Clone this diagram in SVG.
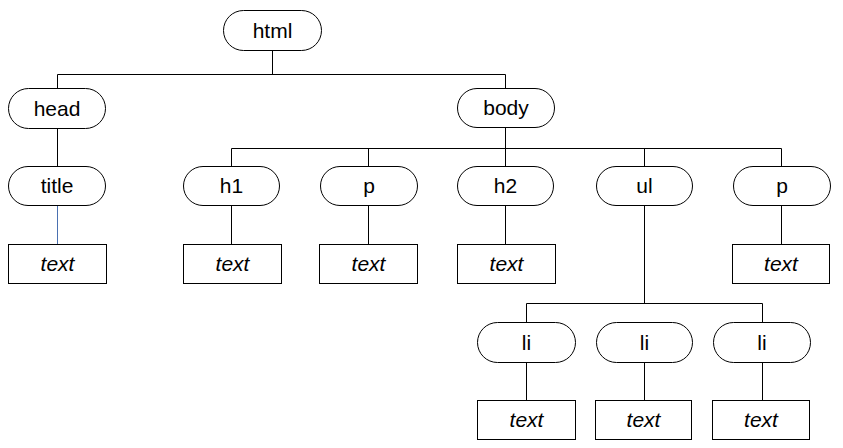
<svg xmlns="http://www.w3.org/2000/svg" width="843" height="448" viewBox="0 0 843 448">
<style>
.n{fill:#fff;stroke:#000;stroke-width:1}
.t{font-family:"Liberation Sans",Arial,sans-serif;font-size:21px;text-anchor:middle;fill:#000}
.i{font-style:italic}
.c{fill:none;stroke:#000;stroke-width:1}
.b{fill:none;stroke:#4a70b0;stroke-width:1}
</style>
<rect width="843" height="448" fill="#fff"/>
<g id="connectors">
<path class="c" d="M272.5 50V74.5M57.5 88V74.5H505.5V88"/>
<path class="c" d="M57.5 128V166"/>
<path class="b" d="M57.5 206V244"/>
<path class="c" d="M505.5 127V148.5M231.5 167V148.5H781.5V167M368.5 148.5V167M505.5 148.5V167M644.5 148.5V167"/>
<path class="c" d="M231.5 206V244M368.5 206V244M505.5 206V244M781.5 206V244"/>
<path class="c" d="M644.5 205V303.5M526.5 322V303.5H762.5V322"/>
<path class="c" d="M526.5 362V400M644.5 362V400M762.5 362V400"/>
</g>
<g id="html"><rect class="n" x="223.5" y="10.5" width="98" height="40" rx="20"/><text class="t" x="272.5" y="37.5">html</text></g>
<g id="head"><rect class="n" x="8.5" y="88.5" width="97" height="40" rx="20"/><text class="t" x="57" y="115.5">head</text></g>
<g id="body"><rect class="n" x="457.5" y="88.5" width="97" height="39" rx="19.5"/><text class="t" x="506" y="115">body</text></g>
<g id="title"><rect class="n" x="8.5" y="166.5" width="97" height="39" rx="19.5"/><text class="t" x="57" y="193">title</text></g>
<g id="h1"><rect class="n" x="183.5" y="166.5" width="96" height="39" rx="19.5"/><text class="t" x="231.5" y="193">h1</text></g>
<g id="p1"><rect class="n" x="320.5" y="166.5" width="97" height="39" rx="19.5"/><text class="t" x="369" y="193">p</text></g>
<g id="h2"><rect class="n" x="457.5" y="166.5" width="96" height="39" rx="19.5"/><text class="t" x="505.5" y="193">h2</text></g>
<g id="ul"><rect class="n" x="596.5" y="166.5" width="96" height="39" rx="19.5"/><text class="t" x="644.5" y="193">ul</text></g>
<g id="p2"><rect class="n" x="733.5" y="166.5" width="97" height="39" rx="19.5"/><text class="t" x="782" y="193">p</text></g>
<g id="text-title"><rect class="n" x="8.5" y="244.5" width="98" height="39"/><text class="t i" x="57.5" y="271">text</text></g>
<g id="text-h1"><rect class="n" x="183.5" y="244.5" width="98" height="39"/><text class="t i" x="232.5" y="271">text</text></g>
<g id="text-p1"><rect class="n" x="319.5" y="244.5" width="98" height="39"/><text class="t i" x="368.5" y="271">text</text></g>
<g id="text-h2"><rect class="n" x="457.5" y="244.5" width="98" height="39"/><text class="t i" x="506.5" y="271">text</text></g>
<g id="text-p2"><rect class="n" x="732.5" y="244.5" width="97" height="39"/><text class="t i" x="781" y="271">text</text></g>
<g id="li1"><rect class="n" x="477.5" y="322.5" width="98" height="40" rx="20"/><text class="t" x="526.5" y="349.5">li</text></g>
<g id="li2"><rect class="n" x="596.5" y="322.5" width="96" height="40" rx="20"/><text class="t" x="644.5" y="349.5">li</text></g>
<g id="li3"><rect class="n" x="713.5" y="322.5" width="97" height="40" rx="20"/><text class="t" x="762" y="349.5">li</text></g>
<g id="text-li1"><rect class="n" x="477.5" y="400.5" width="98" height="39"/><text class="t i" x="526.5" y="427">text</text></g>
<g id="text-li2"><rect class="n" x="595.5" y="400.5" width="96" height="39"/><text class="t i" x="643.5" y="427">text</text></g>
<g id="text-li3"><rect class="n" x="712.5" y="400.5" width="97" height="39"/><text class="t i" x="761" y="427">text</text></g>
</svg>
